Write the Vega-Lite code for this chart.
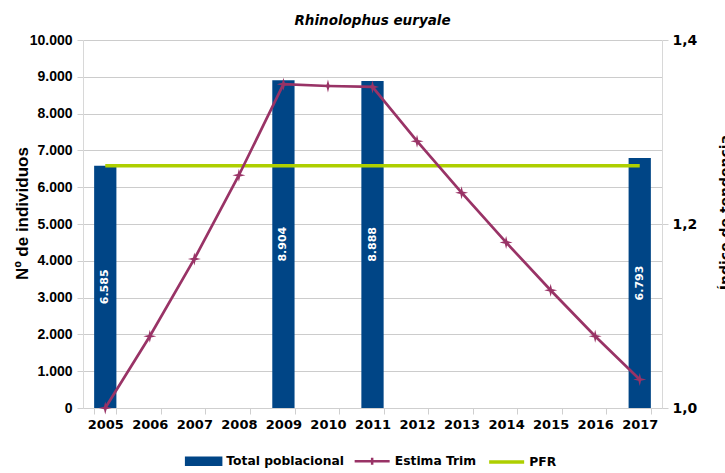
{
  "$schema": "https://vega.github.io/schema/vega-lite/v6.json",
  "autosize": {"type": "none"},
  "width": 579,
  "height": 368,
  "padding": {"left": 83, "top": 40, "right": 63, "bottom": 65},
  "background": "white",
  "config": {
    "locale": {"number": {"decimal": ",", "thousands": ".", "grouping": [3], "currency": ["", " €"]}},
    "view": {"stroke": null}
  },
  "title": {
    "text": "Rhinolophus euryale",
    "font": "DejaVu Sans",
    "fontSize": 13.5,
    "fontStyle": "italic",
    "fontWeight": "bold",
    "color": "#000000",
    "frame": "group",
    "anchor": "middle",
    "offset": 6
  },
  "datasets": {
    "bars": [
      {"year": "2005", "total": 6585},
      {"year": "2009", "total": 8904},
      {"year": "2011", "total": 8888},
      {"year": "2017", "total": 6793}
    ],
    "trim": [
      {"year": "2005", "estima": 1.000},
      {"year": "2006", "estima": 1.078},
      {"year": "2007", "estima": 1.162},
      {"year": "2008", "estima": 1.253},
      {"year": "2009", "estima": 1.352},
      {"year": "2010", "estima": 1.350},
      {"year": "2011", "estima": 1.349},
      {"year": "2012", "estima": 1.290},
      {"year": "2013", "estima": 1.234},
      {"year": "2014", "estima": 1.180},
      {"year": "2015", "estima": 1.128},
      {"year": "2016", "estima": 1.078},
      {"year": "2017", "estima": 1.031}
    ],
    "pfr": [
      {"year": "2005", "pfr": 6580},
      {"year": "2017", "pfr": 6580}
    ]
  },
  "layer": [
    {
      "layer": [
        {
          "data": {"name": "bars"},
          "mark": {"type": "bar"},
          "encoding": {
            "x": {
              "field": "year", "type": "ordinal",
              "scale": {"type": "band", "domain": ["2005","2006","2007","2008","2009","2010","2011","2012","2013","2014","2015","2016","2017"], "paddingInner": 0.5, "paddingOuter": 0.25},
              "axis": {"title": null, "labelAngle": 0, "labelFont": "DejaVu Sans", "labelFontWeight": "bold", "labelFontSize": 13, "labelColor": "#000000", "labelPadding": 4, "tickBand": "extent", "tickColor": "#cfcfcf", "tickSize": 6, "domainColor": "#cfcfcf", "grid": false}
            },
            "y": {
              "field": "total", "type": "quantitative",
              "scale": {"domain": [0, 10000], "nice": false},
              "axis": {"title": "Nº de individuos", "titleFont": "Liberation Sans", "titleFontSize": 17, "titleFontWeight": "bold", "titleColor": "#000000", "titleAngle": 270, "titleBaseline": "top", "titleAlign": "center", "titleX": -69, "titleY": 173, "tickCount": 10, "format": ",d", "labelFont": "Liberation Sans", "labelFontWeight": "bold", "labelFontSize": 14, "labelColor": "#000000", "labelPadding": 5, "tickColor": "#cfcfcf", "tickSize": 6, "domainColor": "#d8d8d8", "grid": true, "gridColor": "#cccccc"}
            },
            "color": {
              "datum": "Total poblacional",
              "scale": {"domain": ["Total poblacional", "Estima Trim", "PFR"], "range": ["#004586", "#993366", "#aecf00"]},
              "legend": {
                "title": null,
                "orient": "none",
                "legendX": 114.5,
                "legendY": 415,
                "direction": "horizontal",
                "padding": 0,
                "symbolSize": 1225,
                "labelFont": "DejaVu Sans",
                "labelFontWeight": "bold",
                "labelFontSize": 12.3,
                "labelColor": "#000000",
                "labelOffset": 16.5,
                "columnPadding": 4.5,
                "encode": {
                  "symbols": {
                    "update": {
                      "shape": {"signal": "datum.value === 'Total poblacional' ? 'M-1,-0.2H1V0.2H-1Z' : (datum.value === 'Estima Trim' ? 'M-1,0H1M0,-0.2V0.2' : 'M-1,0H1')"},
                      "fill": {"signal": "datum.value === 'Total poblacional' ? '#004586' : 'transparent'"},
                      "stroke": {"signal": "datum.value === 'Total poblacional' ? 'transparent' : (datum.value === 'Estima Trim' ? '#993366' : '#aecf00')"},
                      "strokeWidth": {"signal": "datum.value === 'PFR' ? 3.5 : 2.5"},
                      "opacity": {"value": 1}
                    }
                  }
                }
              }
            }
          }
        },
        {
          "data": {"name": "pfr"},
          "mark": {"type": "line", "strokeWidth": 3.5},
          "encoding": {
            "x": {"field": "year", "type": "ordinal"},
            "y": {"field": "pfr", "type": "quantitative"},
            "color": {"datum": "PFR"}
          }
        }
      ]
    },
    {
      "data": {"name": "bars"},
      "mark": {"type": "text", "angle": 270, "align": "center", "baseline": "middle", "color": "#ffffff", "font": "DejaVu Sans", "fontWeight": "bold", "fontSize": 11, "letterSpacing": 1},
      "encoding": {
        "x": {"field": "year", "type": "ordinal"},
        "y": {"field": "total", "type": "quantitative", "scale": {"domain": [0, 20000], "nice": false}, "axis": null},
        "text": {"field": "total", "type": "quantitative", "format": ",d"}
      }
    },
    {
      "data": {"name": "trim"},
      "mark": {"type": "line", "strokeWidth": 2.7, "point": {"shape": "M0,-1L0.2,-0.2L1,0L0.2,0.2L0,1L-0.2,0.2L-1,0L-0.2,-0.2Z", "size": 170, "filled": true}},
      "encoding": {
        "x": {"field": "year", "type": "ordinal"},
        "y": {
          "field": "estima", "type": "quantitative",
          "scale": {"domain": [1.0, 1.4], "nice": false, "zero": false},
          "axis": {"orient": "right", "title": "Índice de tendencia", "titleFont": "DejaVu Sans", "titleFontSize": 14, "titleFontWeight": "bold", "titleColor": "#000000", "titleAngle": 270, "titleBaseline": "top", "titleAlign": "center", "titleX": 56, "titleY": 172, "values": [1.0, 1.2, 1.4], "format": ".1f", "labelFont": "DejaVu Sans", "labelFontWeight": "bold", "labelFontSize": 14, "labelColor": "#000000", "labelPadding": 4, "tickColor": "#cfcfcf", "tickSize": 6, "domainColor": "#d8d8d8", "grid": false}
        },
        "color": {"datum": "Estima Trim"}
      }
    }
  ],
  "resolve": {"scale": {"y": "independent"}}
}
